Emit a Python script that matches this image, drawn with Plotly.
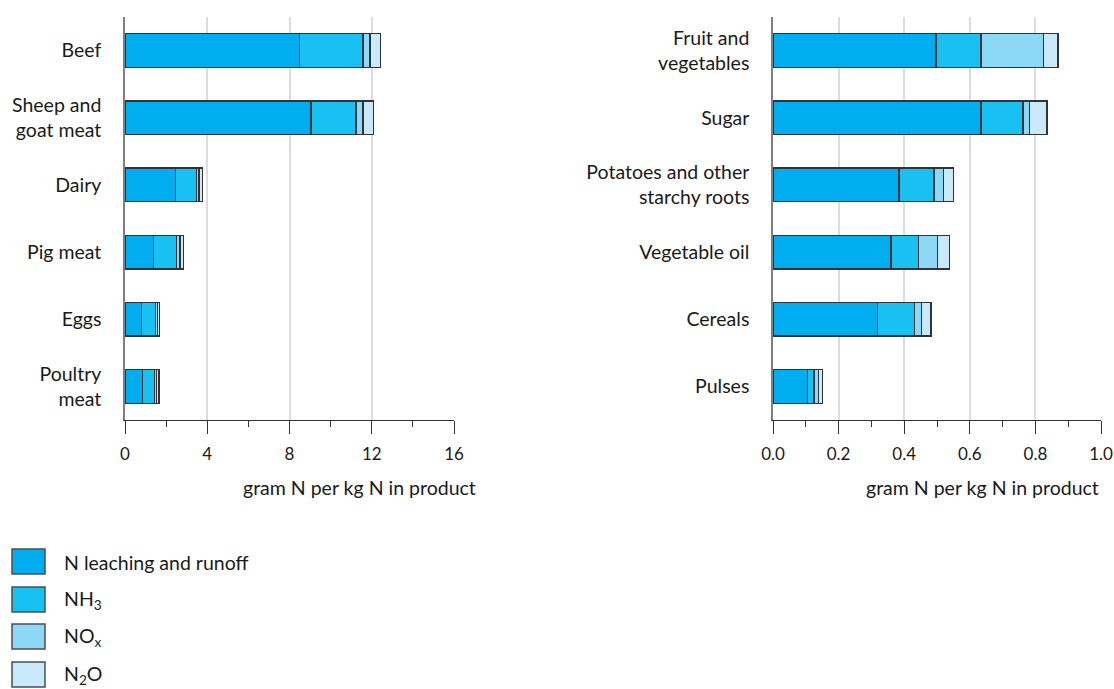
import plotly.graph_objects as go

W, H = 1114, 689

# Animal products (gram N per kg N in product)
animal_products = ["Beef", "Sheep and<br>goat meat", "Dairy", "Pig meat", "Eggs", "Poultry<br>meat"]
animal_leaching = [8.50, 9.05, 2.47, 1.39, 0.79, 0.84]
animal_nh3 = [3.07, 2.18, 1.00, 1.13, 0.68, 0.60]
animal_nox = [0.35, 0.34, 0.13, 0.15, 0.10, 0.09]
animal_n2o = [0.52, 0.50, 0.16, 0.16, 0.11, 0.12]

# Plant products (gram N per kg N in product)
plant_products = ["Fruit and<br>vegetables", "Sugar", "Potatoes and other<br>starchy roots",
                  "Vegetable oil", "Cereals", "Pulses"]
plant_leaching = [0.497, 0.634, 0.384, 0.360, 0.319, 0.106]
plant_nh3 = [0.137, 0.128, 0.107, 0.084, 0.113, 0.019]
plant_nox = [0.191, 0.019, 0.028, 0.057, 0.021, 0.014]
plant_n2o = [0.044, 0.054, 0.032, 0.037, 0.029, 0.011]

series_names = ["N leaching and runoff", "NH<sub>3</sub>", "NO<sub>x</sub>", "N<sub>2</sub>O"]
colors = ["#00ADEE", "#19C0F2", "#8DD7F7", "#C9E9FB"]
outline = "#333333"
FONT = "Lato"
TEXT = "#1a1a1a"
LABEL_SIZE = 19.5


def px_x(p):
    return p / W


def px_y(p):
    return 1 - p / H


fig = go.Figure()

animal_series = [animal_leaching, animal_nh3, animal_nox, animal_n2o]
plant_series = [plant_leaching, plant_nh3, plant_nox, plant_n2o]

for name, vals, col in zip(series_names, animal_series, colors):
    fig.add_trace(go.Bar(
        y=animal_products, x=vals, orientation="h", name=name,
        marker=dict(color=col, line=dict(color=outline, width=1.3)),
        width=0.5, xaxis="x", yaxis="y", showlegend=False,
    ))
for name, vals, col in zip(series_names, plant_series, colors):
    fig.add_trace(go.Bar(
        y=plant_products, x=vals, orientation="h", name=name,
        marker=dict(color=col, line=dict(color=outline, width=1.3)),
        width=0.5, xaxis="x2", yaxis="y2", showlegend=False,
    ))

y_dom = [px_y(420), px_y(17)]

common_x = dict(
    showline=True, linecolor="#333333", linewidth=1,
    ticks="outside", ticklen=13, tickcolor="#333333", tickwidth=1,
    showgrid=True, gridcolor="#dcdcdc", gridwidth=1.5,
    zeroline=False, automargin=False,
    tickfont=dict(family=FONT, size=17, color=TEXT),
    ticklabelstandoff=6,
)
common_y = dict(
    showline=True, linecolor="#7f7f7f", linewidth=1.5,
    ticks="", showgrid=False, zeroline=False, automargin=False,
    tickfont=dict(family=FONT, size=LABEL_SIZE, color=TEXT),
    ticklabelstandoff=18,
    domain=y_dom,
)

fig.update_layout(
    barmode="stack",
    width=W, height=H,
    margin=dict(l=0, r=0, t=0, b=0, autoexpand=False),
    paper_bgcolor="white", plot_bgcolor="white",
    font=dict(family=FONT, color=TEXT),
    xaxis=dict(domain=[px_x(125), px_x(454)], range=[0, 16], dtick=4, tick0=0,
               minor=dict(ticks="outside", ticklen=6, dtick=2, tick0=0,
                          tickcolor="#333333", showgrid=False),
               anchor="y", **common_x),
    yaxis=dict(anchor="x", categoryorder="array", categoryarray=animal_products,
               range=[5.5, -0.5], **common_y),
    xaxis2=dict(domain=[px_x(773), px_x(1101)], range=[0, 1.0], dtick=0.2, tick0=0,
                tickformat=".1f",
                minor=dict(ticks="outside", ticklen=6, dtick=0.1, tick0=0,
                           tickcolor="#333333", showgrid=False),
                anchor="y2", **common_x),
    yaxis2=dict(anchor="x2", categoryorder="array", categoryarray=plant_products,
                range=[5.5, -0.5], **common_y),
)

# Axis titles
for right_edge in (478, 1101):
    fig.add_annotation(
        text="gram N per kg N in product", xref="paper", yref="paper",
        x=px_x(right_edge), y=px_y(487), xanchor="right", yanchor="middle",
        showarrow=False, font=dict(family=FONT, size=LABEL_SIZE, color=TEXT),
    )

# Legend drawn as swatches with labels
legend_tops = [549, 587, 624, 662]
for top, name, col in zip(legend_tops, series_names, colors):
    fig.add_shape(
        type="rect", xref="paper", yref="paper",
        x0=px_x(12), x1=px_x(45), y0=px_y(top + 25), y1=px_y(top),
        fillcolor=col, line=dict(color="#4d4d4d", width=1.5),
    )
    fig.add_annotation(
        text=name, xref="paper", yref="paper",
        x=px_x(62), y=px_y(top + 13), xanchor="left", yanchor="middle",
        showarrow=False, font=dict(family=FONT, size=LABEL_SIZE, color=TEXT),
    )

fig.write_html("out.html")
